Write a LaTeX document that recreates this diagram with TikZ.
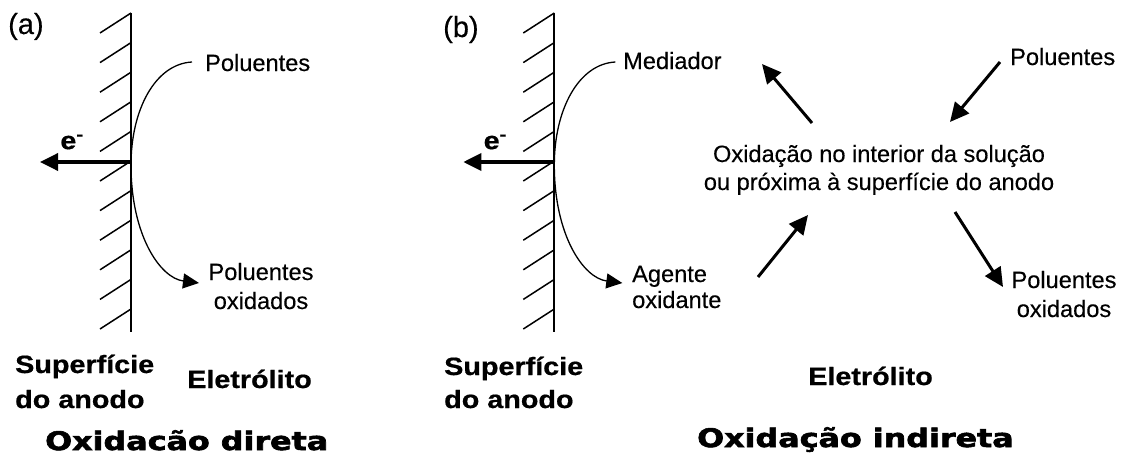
\documentclass[tikz,border=0pt]{standalone}
\usepackage{fontspec}
\setmainfont{Liberation Sans}[FakeBold=0.3]
\newfontfamily\titlefont[FakeBold=2.2]{DejaVu Sans Bold}
\newfontfamily\labfont[FakeBold=0.6]{Liberation Sans Bold}
\usepackage{graphicx}
\usetikzlibrary{arrows.meta}
\newcommand\wideb[1]{\scalebox{1.15}[1]{#1}}
\newcommand\widet[1]{\scalebox{1.245}[1]{#1}}
\tikzset{
  lab/.style={font=\fontsize{23.6}{29}\selectfont, inner sep=0pt},
  tag/.style={font=\fontsize{29}{34}\selectfont, inner sep=0pt},
  blab/.style={font=\labfont\fontsize{25}{34}\selectfont, inner sep=0pt},
  ttl/.style={font=\titlefont\fontsize{25.5}{30}\selectfont, inner sep=0pt},
  wall/.style={line width=2pt},
  hatch/.style={line width=1.5pt},
  ecurr/.style={line width=3.5pt, -{Triangle[length=18pt,width=17pt]}},
  flow/.style={line width=1.3pt, -{Triangle[length=16pt,width=15pt]}},
  react/.style={line width=3pt, -{Triangle[length=19pt,width=18pt]}},
}
\begin{document}
\begin{tikzpicture}[x=1pt,y=-1pt]
\useasboundingbox (0,0) rectangle (1130,463);
% ---------- the two electrode panels ----------
\foreach \p/\dx in {a/0, b/423.3}{
  \begin{scope}[xshift=\dx pt]
    \coordinate (wt-\p) at (131,13);
    \coordinate (wb-\p) at (131,332);
    \draw[wall] (wt-\p) -- (wb-\p);
    \foreach \k in {0,...,10}
      \draw[hatch] (131,{13+29.6*\k}) -- ++(-31,20);
    \coordinate (ec-\p) at (131,162);
    \coordinate (et-\p) at (40,162);
    \draw[ecurr] (ec-\p) -- (et-\p);
    \node[blab] (e-\p) at (72,142) {\wideb{e\textsuperscript{-}}};
    \coordinate (cs-\p) at (192,62);
    \coordinate (cm-\p) at (131,165);
    \coordinate (ce-\p) at (199,283);
    \draw[flow] (cs-\p) .. controls +(-37,2) and +(0,-55) .. (cm-\p)
                .. controls +(0,70) and +(-39,-5) .. (ce-\p);
  \end{scope}
}
% ---------- panel (a) texts ----------
\node[tag, anchor=base west] (tag-a) at (8,34) {(a)};
\node[lab, anchor=base west] (pol-a) at (205,71) {Poluentes};
\node[lab, anchor=base] (pox-a1) at (261,280) {Poluentes};
\node[lab, anchor=base] (pox-a2) at (261,309) {oxidados};
\node[blab, anchor=base west] (sup-a1) at (15,373) {\wideb{Superfície}};
\node[blab, anchor=base west] (sup-a2) at (15,408) {\wideb{do anodo}};
\node[blab, anchor=base west] (ele-a) at (187,388) {\wideb{Eletrólito}};
\node[ttl, anchor=base west] (tit-a) at (45,450) {\widet{Oxidacão direta}};
% ---------- panel (b) texts ----------
\node[tag, anchor=base west] (tag-b) at (443,37) {(b)};
\node[lab, anchor=base west] (med) at (623,69) {Mediador};
\node[lab, anchor=base west] (pol-b) at (1010,65) {Poluentes};
\node[lab, anchor=base] (mid1) at (879,162) {Oxidação no interior da solução};
\node[lab, anchor=base] (mid2) at (879,190) {ou próxima à superfície do anodo};
\node[lab, anchor=base west] (ag1) at (632,282) {Agente};
\node[lab, anchor=base west] (ag2) at (632,308) {oxidante};
\node[lab, anchor=base] (pox-b1) at (1064,288) {Poluentes};
\node[lab, anchor=base] (pox-b2) at (1064,317) {oxidados};
\node[blab, anchor=base west] (sup-b1) at (444,375) {\wideb{Superfície}};
\node[blab, anchor=base west] (sup-b2) at (444,408) {\wideb{do anodo}};
\node[blab, anchor=base west] (ele-b) at (808,385) {\wideb{Eletrólito}};
\node[ttl, anchor=base west] (tit-b) at (697,447) {\widet{Oxidação indireta}};
% ---------- reaction arrows ----------
\coordinate (m-t) at (812,123);  \coordinate (m-h) at (762,64);
\coordinate (p-t) at (1000,62);  \coordinate (p-h) at (950,122);
\coordinate (g-t) at (758,277);  \coordinate (g-h) at (808,215);
\coordinate (o-t) at (955,212);  \coordinate (o-h) at (1003,287);
\draw[react] (m-t) -- (m-h);
\draw[react] (p-t) -- (p-h);
\draw[react] (g-t) -- (g-h);
\draw[react] (o-t) -- (o-h);
\end{tikzpicture}
\end{document}
